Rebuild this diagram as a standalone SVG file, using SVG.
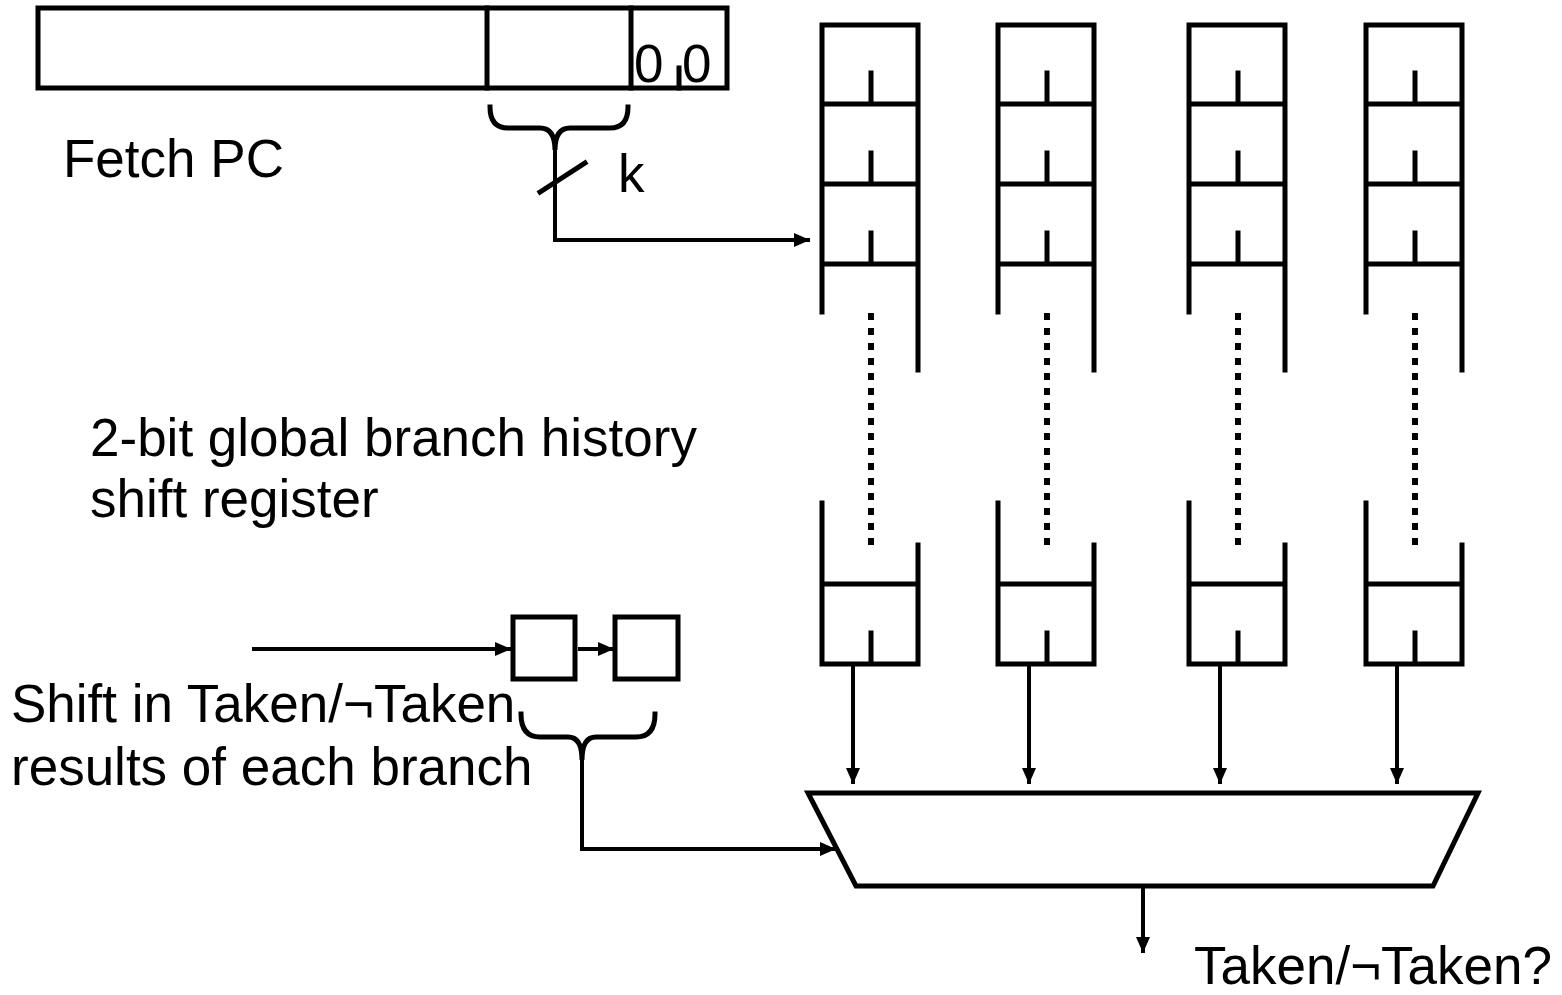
<svg xmlns="http://www.w3.org/2000/svg" width="1562" height="995" viewBox="0 0 1562 995">
<style>
.s{fill:none;stroke:#000;stroke-width:5;stroke-linecap:square}
.c{fill:none;stroke:#000;stroke-width:4}
.d{fill:none;stroke:#000;stroke-width:6;stroke-dasharray:7 8}
.t{font-family:"Liberation Sans",Arial,sans-serif;font-size:53px;fill:#000}
</style>
<defs>
<marker id="ah" markerUnits="userSpaceOnUse" markerWidth="16" markerHeight="14" refX="16" refY="7" orient="auto">
<path d="M0,0 L16,7 L0,14 Z" fill="#000"/>
</marker>
<g id="col">
<path class="s" d="M0,312 V25 H96 V370 M0,104 H96 M0,184 H96 M0,264 H96 M49,73 V104 M49,153 V184 M49,233 V264"/>
<path class="d" d="M49,313 V545"/>
<path class="s" d="M0,503 V664 H96 V545 M0,584 H96 M49,633 V664"/>
</g>
</defs>
<rect width="1562" height="995" fill="#fff"/>
<g id="pc">
<rect class="s" x="38" y="8" width="689" height="80"/>
<path class="s" d="M487,8 V88 M631,8 V88 M679,68 V88"/>
<text class="t" x="634" y="82">0</text>
<text class="t" x="682" y="82">0</text>
<text class="t" x="63" y="177">Fetch PC</text>
</g>
<g id="brace1">
<path class="s" d="M490,107 Q490,128 508,128 H540 Q555,128 555,150 Q555,128 570,128 H610 Q628,128 628,107"/>
<path class="s" d="M540,192 L585,163"/>
<text class="t" x="618" y="192">k</text>
</g>
<g id="col1" transform="translate(822,0)"><use href="#col"/></g>
<g id="col2" transform="translate(998,0)"><use href="#col"/></g>
<g id="col3" transform="translate(1189,0)"><use href="#col"/></g>
<g id="col4" transform="translate(1366,0)"><use href="#col"/></g>
<g id="label">
<text class="t" x="90" y="456">2-bit global branch history</text>
<text class="t" x="90" y="517">shift register</text>
</g>
<g id="shiftreg">
<rect class="s" x="513" y="617" width="62" height="62"/>
<rect class="s" x="615" y="617" width="63" height="62"/>
<text class="t" x="11" y="722">Shift in Taken/¬Taken</text>
<text class="t" x="11" y="785">results of each branch</text>
<path class="s" d="M521,714 Q521,737 540,737 H568 Q582,737 582,760 Q582,737 596,737 H636 Q655,737 655,714"/>
</g>
<g id="mux">
<path class="s" d="M808,793 H1478 L1433,886 H856 Z"/>
<text class="t" x="1194" y="984">Taken/¬Taken?</text>
</g>
<g id="connectors">
<path class="c" d="M555,150 V240 H810" marker-end="url(#ah)"/>
<path class="c" d="M252,649 H511" marker-end="url(#ah)"/>
<path class="c" d="M578,649 H614" marker-end="url(#ah)"/>
<path class="c" d="M582,760 V849 H836" marker-end="url(#ah)"/>
<path class="c" d="M853,664 V784" marker-end="url(#ah)"/>
<path class="c" d="M1029,664 V784" marker-end="url(#ah)"/>
<path class="c" d="M1220,664 V784" marker-end="url(#ah)"/>
<path class="c" d="M1397,664 V784" marker-end="url(#ah)"/>
<path class="c" d="M1143,886 V953" marker-end="url(#ah)"/>
</g>
</svg>
